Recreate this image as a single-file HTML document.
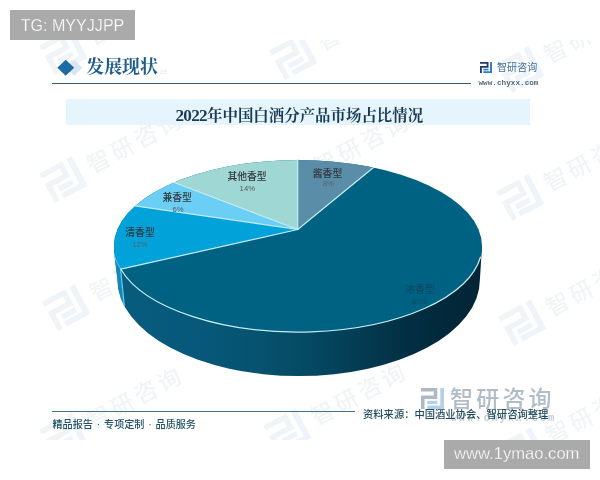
<!DOCTYPE html>
<html lang="zh-CN">
<head>
<meta charset="utf-8">
<title>2022年中国白酒分产品市场占比情况</title>
<style>
html,body{margin:0;padding:0;}
body{width:600px;height:480px;overflow:hidden;background:#fff;position:relative;font-family:"Liberation Sans","Noto Sans CJK SC",sans-serif;}
.abs{position:absolute;white-space:nowrap;}
.tg{left:10px;top:10px;width:125px;height:29.5px;background:#aaa;color:#fff;font-size:16.1px;line-height:30px;text-align:center;-webkit-text-stroke:0.25px #aaa;}
.ym{left:444px;top:440px;width:145.5px;height:29.3px;background:#aaa;color:#fff;font-size:16.6px;line-height:28.8px;text-align:center;-webkit-text-stroke:0.3px #aaa;}
.h1{left:86.3px;top:54.3px;font-family:"Liberation Serif","Noto Serif CJK SC",serif;font-weight:bold;font-size:17.9px;line-height:26px;color:#1d5c8b;}
.hline{left:52px;top:83px;width:419px;height:1.3px;background:#2d5f6e;}
.tbar{left:66px;top:99px;width:464px;height:26px;background:#e5f4fd;}
.title{left:67.3px;top:101.5px;width:464px;height:26px;line-height:27.5px;text-align:center;font-family:"Liberation Serif","Noto Serif CJK SC",serif;font-weight:bold;font-size:15.45px;color:#173a55;}
.dg{font-size:17.2px;letter-spacing:-0.7px;}
.logo-t{left:497px;top:60.8px;font-size:10px;line-height:14px;color:#3d6f9c;letter-spacing:0.1px;}
.logo-u{left:478.5px;top:77.7px;font-family:"Liberation Mono",monospace;font-weight:bold;font-size:7.7px;line-height:10px;color:#56697f;}
.fline{left:52px;top:411px;width:303px;height:1.2px;background:#3f7385;}
.fl{left:52.5px;top:418px;font-size:10.1px;line-height:14px;color:#245366;word-spacing:1.1px;font-weight:500;}
.src{left:363px;top:408px;font-size:10.3px;line-height:14px;color:#1f4a5e;font-weight:500;}
.lab{font-size:9.8px;line-height:11px;color:#33383c;font-weight:500;text-align:center;transform:translateX(-50%);}
.pct{font-size:7.7px;line-height:10px;color:#5a6167;text-align:center;transform:translateX(-50%);}
.bigwm{left:450px;top:385px;font-size:23px;line-height:28px;letter-spacing:3.2px;color:#b0bcc8;font-weight:500;}
</style>
</head>
<body>
<!-- watermarks -->
<svg class="abs" style="left:0;top:40px" width="600" height="400" viewBox="0 40 600 400" font-family="'Liberation Sans','Noto Sans CJK SC',sans-serif">
<g transform="translate(63,52) rotate(-28)"><g transform="translate(-18,-17) scale(1.6)"><path d="M0 0H16.3V11H3.5V21H0V7.5H12.8V3.5H0Z" fill="#f1f4f7"/><path d="M19.3 0H23V21H6.3V17.5H19.3Z" fill="#eef4f9"/><rect x="6.3" y="12.8" width="10" height="3.3" fill="#eef4f9"/></g><text x="29" y="8.5" font-size="23" letter-spacing="3.5" font-weight="500" fill="#f1f4f7">智研咨询</text></g>
<g transform="translate(63,180) rotate(-28)"><g transform="translate(-18,-17) scale(1.6)"><path d="M0 0H16.3V11H3.5V21H0V7.5H12.8V3.5H0Z" fill="#f1f4f7"/><path d="M19.3 0H23V21H6.3V17.5H19.3Z" fill="#eef4f9"/><rect x="6.3" y="12.8" width="10" height="3.3" fill="#eef4f9"/></g><text x="29" y="8.5" font-size="23" letter-spacing="3.5" font-weight="500" fill="#f1f4f7">智研咨询</text></g>
<g transform="translate(66,308) rotate(-28)"><g transform="translate(-18,-17) scale(1.6)"><path d="M0 0H16.3V11H3.5V21H0V7.5H12.8V3.5H0Z" fill="#f1f4f7"/><path d="M19.3 0H23V21H6.3V17.5H19.3Z" fill="#eef4f9"/><rect x="6.3" y="12.8" width="10" height="3.3" fill="#eef4f9"/></g><text x="29" y="8.5" font-size="23" letter-spacing="3.5" font-weight="500" fill="#f1f4f7">智研咨询</text></g>
<g transform="translate(63,436) rotate(-28)"><g transform="translate(-18,-17) scale(1.6)"><path d="M0 0H16.3V11H3.5V21H0V7.5H12.8V3.5H0Z" fill="#f1f4f7"/><path d="M19.3 0H23V21H6.3V17.5H19.3Z" fill="#eef4f9"/><rect x="6.3" y="12.8" width="10" height="3.3" fill="#eef4f9"/></g><text x="29" y="8.5" font-size="23" letter-spacing="3.5" font-weight="500" fill="#f1f4f7">智研咨询</text></g>
<g transform="translate(293,57) rotate(-28)"><g transform="translate(-18,-17) scale(1.6)"><path d="M0 0H16.3V11H3.5V21H0V7.5H12.8V3.5H0Z" fill="#f1f4f7"/><path d="M19.3 0H23V21H6.3V17.5H19.3Z" fill="#eef4f9"/><rect x="6.3" y="12.8" width="10" height="3.3" fill="#eef4f9"/></g><text x="29" y="8.5" font-size="23" letter-spacing="3.5" font-weight="500" fill="#f1f4f7">智研咨询</text></g>
<g transform="translate(290,182) rotate(-28)"><g transform="translate(-18,-17) scale(1.6)"><path d="M0 0H16.3V11H3.5V21H0V7.5H12.8V3.5H0Z" fill="#f1f4f7"/><path d="M19.3 0H23V21H6.3V17.5H19.3Z" fill="#eef4f9"/><rect x="6.3" y="12.8" width="10" height="3.3" fill="#eef4f9"/></g><text x="29" y="8.5" font-size="23" letter-spacing="3.5" font-weight="500" fill="#f1f4f7">智研咨询</text></g>
<g transform="translate(290,307) rotate(-28)"><g transform="translate(-18,-17) scale(1.6)"><path d="M0 0H16.3V11H3.5V21H0V7.5H12.8V3.5H0Z" fill="#f1f4f7"/><path d="M19.3 0H23V21H6.3V17.5H19.3Z" fill="#eef4f9"/><rect x="6.3" y="12.8" width="10" height="3.3" fill="#eef4f9"/></g><text x="29" y="8.5" font-size="23" letter-spacing="3.5" font-weight="500" fill="#f1f4f7">智研咨询</text></g>
<g transform="translate(287,432) rotate(-28)"><g transform="translate(-18,-17) scale(1.6)"><path d="M0 0H16.3V11H3.5V21H0V7.5H12.8V3.5H0Z" fill="#f1f4f7"/><path d="M19.3 0H23V21H6.3V17.5H19.3Z" fill="#eef4f9"/><rect x="6.3" y="12.8" width="10" height="3.3" fill="#eef4f9"/></g><text x="29" y="8.5" font-size="23" letter-spacing="3.5" font-weight="500" fill="#f1f4f7">智研咨询</text></g>
<g transform="translate(520,70) rotate(-28)"><g transform="translate(-18,-17) scale(1.6)"><path d="M0 0H16.3V11H3.5V21H0V7.5H12.8V3.5H0Z" fill="#f1f4f7"/><path d="M19.3 0H23V21H6.3V17.5H19.3Z" fill="#eef4f9"/><rect x="6.3" y="12.8" width="10" height="3.3" fill="#eef4f9"/></g><text x="29" y="8.5" font-size="23" letter-spacing="3.5" font-weight="500" fill="#f1f4f7">智研咨询</text></g>
<g transform="translate(520,198) rotate(-28)"><g transform="translate(-18,-17) scale(1.6)"><path d="M0 0H16.3V11H3.5V21H0V7.5H12.8V3.5H0Z" fill="#f1f4f7"/><path d="M19.3 0H23V21H6.3V17.5H19.3Z" fill="#eef4f9"/><rect x="6.3" y="12.8" width="10" height="3.3" fill="#eef4f9"/></g><text x="29" y="8.5" font-size="23" letter-spacing="3.5" font-weight="500" fill="#f1f4f7">智研咨询</text></g>
<g transform="translate(522,323) rotate(-28)"><g transform="translate(-18,-17) scale(1.6)"><path d="M0 0H16.3V11H3.5V21H0V7.5H12.8V3.5H0Z" fill="#f1f4f7"/><path d="M19.3 0H23V21H6.3V17.5H19.3Z" fill="#eef4f9"/><rect x="6.3" y="12.8" width="10" height="3.3" fill="#eef4f9"/></g><text x="29" y="8.5" font-size="23" letter-spacing="3.5" font-weight="500" fill="#f1f4f7">智研咨询</text></g>
<g transform="translate(522,451) rotate(-28)"><g transform="translate(-18,-17) scale(1.6)"><path d="M0 0H16.3V11H3.5V21H0V7.5H12.8V3.5H0Z" fill="#f1f4f7"/><path d="M19.3 0H23V21H6.3V17.5H19.3Z" fill="#eef4f9"/><rect x="6.3" y="12.8" width="10" height="3.3" fill="#eef4f9"/></g><text x="29" y="8.5" font-size="23" letter-spacing="3.5" font-weight="500" fill="#f1f4f7">智研咨询</text></g>
</svg>

<div class="abs tg">TG: MYYJJPP</div>

<!-- heading -->
<svg class="abs" style="left:50px;top:55px" width="40" height="26" viewBox="0 0 40 26">
  <polygon points="15.5,12.7 24,4.7 32.5,12.7 24,20.7" fill="#d9e6f2"/>
  <polygon points="7.3,12.7 15.7,4.7 24.2,12.7 15.7,20.7" fill="#1f6aa3"/>
</svg>
<div class="abs h1">发展现状</div>
<div class="abs" style="left:160px;top:68px;font-size:7px;line-height:8px;color:#e4e9ee;">ze</div>
<div class="abs hline"></div>

<!-- top-right logo -->
<svg class="abs" style="left:480px;top:61.5px" width="12" height="11" viewBox="0 0 23 21">
<path d="M0 0H16.3V11H3.5V21H0V7.5H12.8V3.5H0Z" fill="#1f3a6e"/><path d="M19.3 0H23V21H6.3V17.5H19.3Z" fill="#2e7fc1"/><rect x="6.3" y="12.8" width="10" height="3.3" fill="#2e7fc1"/>
</svg>
<div class="abs logo-t">智研咨询</div>
<div class="abs logo-u">www.chyxx.com</div>

<div class="abs tbar"></div>
<div class="abs title"><span class="dg">2022</span>年中国白酒分产品市场占比情况</div>

<!-- pie -->
<svg class="abs" style="left:0;top:0" width="600" height="480" viewBox="0 0 600 480">
  <defs>
    <linearGradient id="side" x1="114" y1="0" x2="484" y2="0" gradientUnits="userSpaceOnUse">
      <stop offset="0" stop-color="#085c7e"/>
      <stop offset="0.232" stop-color="#07587a"/>
      <stop offset="0.395" stop-color="#06526f"/>
      <stop offset="0.503" stop-color="#054b66"/>
      <stop offset="0.584" stop-color="#04445c"/>
      <stop offset="0.692" stop-color="#033950"/>
      <stop offset="0.8" stop-color="#032e42"/>
      <stop offset="0.908" stop-color="#02283a"/>
      <stop offset="1" stop-color="#022436"/>
    </linearGradient>
    <clipPath id="top"><ellipse cx="298" cy="246" rx="184" ry="86"/></clipPath>
  </defs>
  <!-- side wall -->
  <path d="M114 246 L117.5 279.6 A181.2 96.4 0 0 0 479.9 279.6 L482 246 Z" fill="url(#side)"/>
  <!-- blue side strip -->
  <path d="M114 246 L115 262 L117.5 279.6 L118 288 L121 299 L124.3 306 L120.5 269 Z" fill="#1487b8"/>
  <!-- top face -->
  <g clip-path="url(#top)">
    <rect x="100" y="150" width="400" height="200" fill="#006283"/>
    <polygon points="297.7,229.5 297.7,140 400,140 373.5,167.5" fill="#5a8ea8"/>
    <polygon points="297.7,229.5 297.7,140 150,140 174.2,182.5" fill="#9fd7d4"/>
    <polygon points="297.7,229.5 174.2,182.5 150,160 120,190 135,205.8" fill="#6bcef5"/>
    <polygon points="297.7,229.5 135,205.8 100,200 100,275 120.8,269.2" fill="#00a2d9"/>
  </g>
  <g fill="none" stroke="#c4eef6" stroke-width="1.2" stroke-linecap="round">
    <path d="M297.7 229.5 L297.7 160"/>
    <path d="M297.7 229.5 L373.5 167.5"/>
    <path d="M297.7 229.5 L174.2 182.5"/>
    <path d="M297.7 229.5 L135 205.8"/>
    <path d="M297.7 229.5 L120.8 269.2"/>
    <path d="M120.6 269.2 L124.2 305" stroke="#62d0f0"/>
    <path d="M114.5 256 A184 86 0 0 0 120.8 269.2" stroke="#62d0f0" stroke-width="1"/>
    <path d="M120.8 269.2 A184 86 0 0 0 480.5 257"/>
  </g>
</svg>

<div class="abs lab" style="left:247px;top:170.5px;">其他香型</div>
<div class="abs pct" style="left:247.3px;top:183.5px;">14%</div>
<div class="abs lab" style="left:327.5px;top:167.5px;">酱香型</div>
<div class="abs pct" style="left:328.3px;top:179px;">8%</div>
<div class="abs lab" style="left:177.2px;top:191.5px;">兼香型</div>
<div class="abs pct" style="left:178px;top:204.5px;">6%</div>
<div class="abs lab" style="left:140px;top:226.5px;">清香型</div>
<div class="abs pct" style="left:140px;top:239.5px;">12%</div>
<div class="abs lab" style="left:420px;top:284px;color:#0f4a63;">浓香型</div>
<div class="abs pct" style="left:419.6px;top:297px;color:#0f4a63;">60%</div>

<!-- footer -->
<div class="abs fline"></div>
<div class="abs fl">精品报告 · 专项定制 · 品质服务</div>
<svg class="abs" style="left:420.5px;top:388px" width="23" height="21" viewBox="0 0 23 21">
<path d="M0 0H16.3V11H3.5V21H0V7.5H12.8V3.5H0Z" fill="#adb9c5"/><path d="M19.3 0H23V21H6.3V17.5H19.3Z" fill="#b5cfe6"/><rect x="6.3" y="12.8" width="10" height="3.3" fill="#b5cfe6"/>
</svg>
<div class="abs bigwm">智研咨询</div>
<div class="abs" style="left:451px;top:412px;font-family:'Liberation Mono',monospace;font-weight:bold;font-size:10px;line-height:14px;letter-spacing:2.1px;color:#c3ccd5;">www.chyxx.com</div>
<div class="abs src">资料来源：中国酒业协会、智研咨询整理</div>

<div class="abs ym">www.1ymao.com</div>
</body>
</html>
